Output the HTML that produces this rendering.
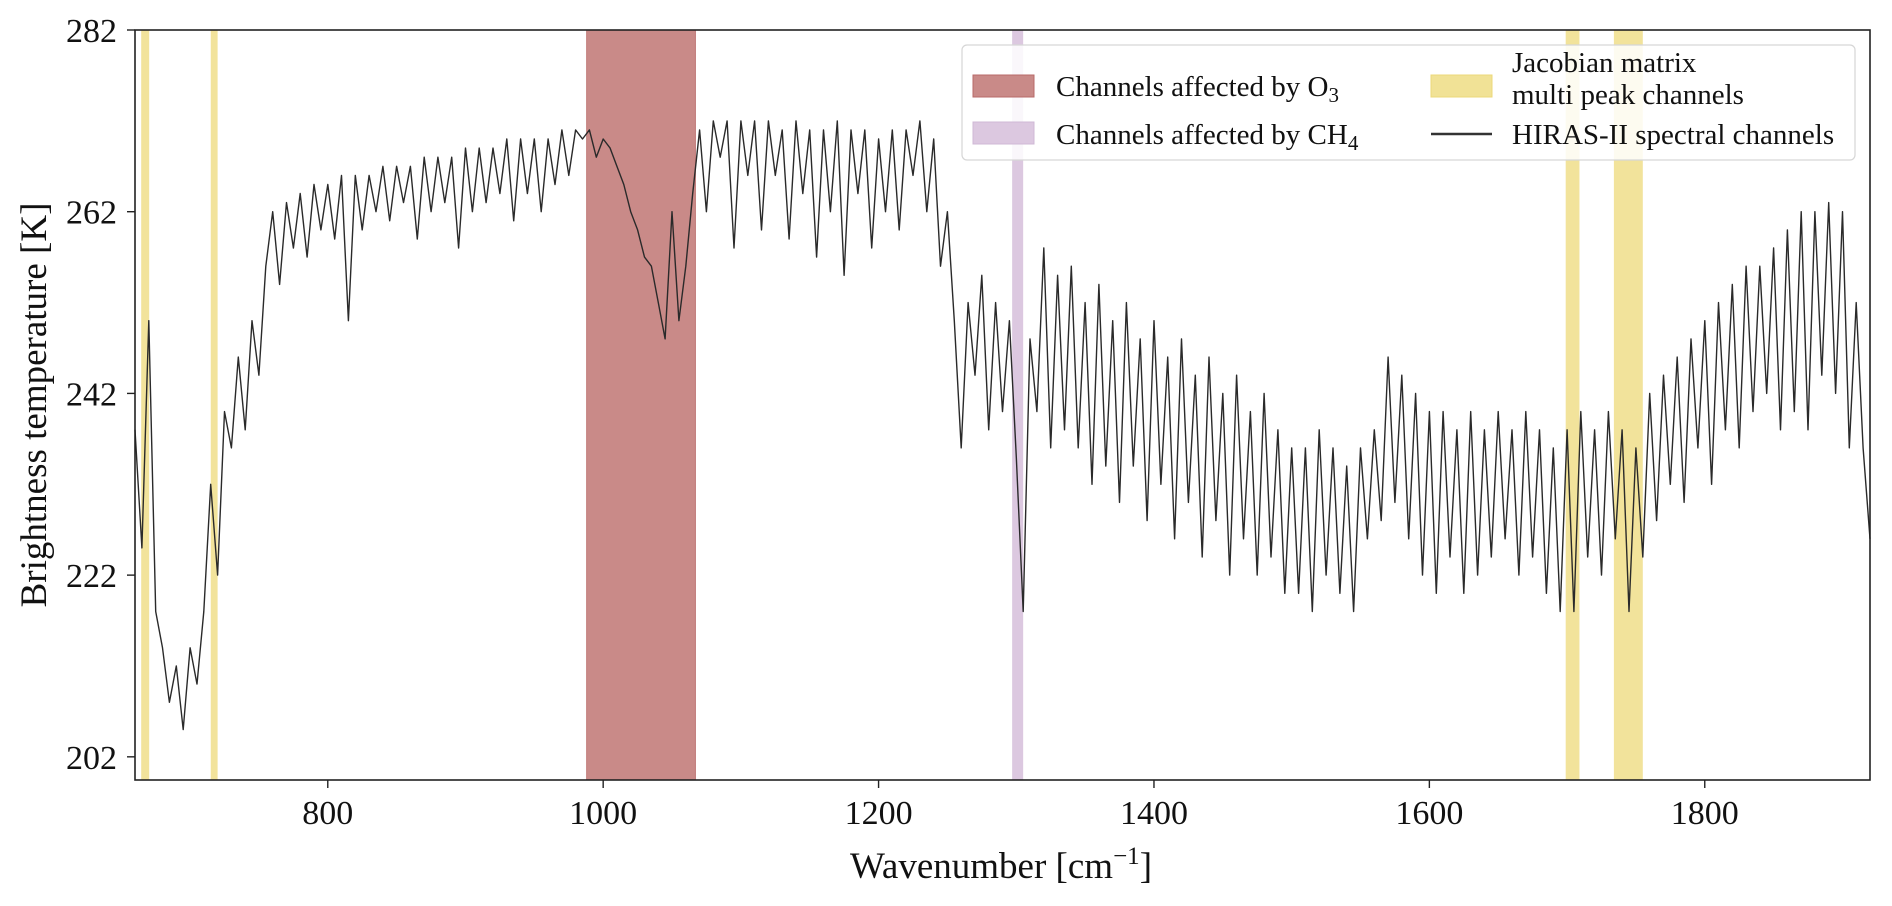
<!DOCTYPE html>
<html><head><meta charset="utf-8"><style>
html,body{margin:0;padding:0;background:#fff;}
svg text{font-family:"Liberation Serif","DejaVu Serif",serif;fill:#111;}
</style></head><body>
<svg id="chart" width="1892" height="901" viewBox="0 0 1892 901" xmlns="http://www.w3.org/2000/svg">
<g id="bands"></g>
<g id="series"></g>
<g id="axes"></g>
<text x="1001" y="878" font-size="37" text-anchor="middle">Wavenumber [cm<tspan dy="-14" font-size="25">−1</tspan><tspan dy="14">]</tspan></text>
<text transform="translate(46,405) rotate(-90)" font-size="37" text-anchor="middle">Brightness temperature [K]</text>
<g>
<rect x="962" y="45" width="893" height="115" rx="5" fill="#fff" fill-opacity="0.85" stroke="#d6d6d6" stroke-width="1.2"/>
<rect x="973" y="75" width="61" height="22" fill="#c98a88" stroke="#b86a68"/>
<text x="1056" y="96" font-size="29">Channels affected by O<tspan dy="6" font-size="21">3</tspan></text>
<rect x="973" y="122" width="61" height="22" fill="#dcc8e0" stroke="#cfb8d6"/>
<text x="1056" y="144" font-size="29">Channels affected by CH<tspan dy="6" font-size="21">4</tspan></text>
<rect x="1431" y="75" width="61" height="22" fill="#f1e296" stroke="#ecd87a"/>
<text x="1512" y="72" font-size="29">Jacobian matrix</text>
<text x="1512" y="104" font-size="29">multi peak channels</text>
<line x1="1431" y1="134" x2="1492" y2="134" stroke="#333" stroke-width="2.5"/>
<text x="1512" y="144" font-size="29">HIRAS-II spectral channels</text>
</g>
</svg>
<script>
const xTicks=[800,1000,1200,1400,1600,1800];
const yTicks=[202,222,242,262,282];
const o3Band=[988,1067];
const ch4Band=[1297,1305];
const jacobianBands=[[664.5,670.3],[715,720],[1699,1709],[1734,1755]];
const wnStart=660, wnStep=5;
const bt=[
238,225,250,218,214,208,212,205,214,210,
218,232,222,240,236,246,238,250,244,256,
262,254,263,258,264,257,265,260,265,259,
266,250,266,260,266,262,267,261,267,263,
267,259,268,262,268,263,268,258,269,262,
269,263,269,264,270,261,270,264,270,262,
270,265,271,266,271,270,271,268,270,269,
267,265,262,260,257,256,252,248,262,250,
256,264,271,262,272,268,272,258,272,266,
272,260,272,266,271,259,272,264,271,257,
271,262,272,255,271,264,271,258,270,262,
271,260,271,266,272,262,270,256,262,250,
236,252,244,255,238,252,240,250,235,218,
248,240,258,236,255,238,256,236,252,232,
254,234,250,230,252,234,248,228,250,232,
246,226,248,230,244,224,246,228,242,222,
244,226,240,222,242,224,238,220,236,220,
236,218,238,222,236,220,234,218,236,226,
238,228,246,230,244,226,242,222,240,220,
240,224,238,220,240,222,238,224,240,226,
238,222,240,224,238,220,236,218,238,218,
240,224,238,222,240,226,238,218,236,224,
242,228,244,232,246,230,248,236,250,232,
252,238,254,236,256,240,256,242,258,238,
260,240,262,238,262,244,263,242,262,236,
252,236,226];
const X0=135,X1=1870,Y0=30,Y1=780,XMIN=660,XMAX=1920,YMIN=199.45,YMAX=282;
const NS='http://www.w3.org/2000/svg';
function sx(v){return X0+(v-XMIN)/(XMAX-XMIN)*(X1-X0);}
function sy(v){return Y1-(v-YMIN)/(YMAX-YMIN)*(Y1-Y0);}
function mk(t,a,p){const e=document.createElementNS(NS,t);for(const k in a)e.setAttribute(k,a[k]);p.appendChild(e);return e;}
const bands=document.getElementById('bands');
let r=mk('rect',{x:sx(o3Band[0]),y:Y0,width:sx(o3Band[1])-sx(o3Band[0]),height:Y1-Y0,fill:'#c98a88',stroke:'#c07a78'},bands);


r=mk('rect',{x:sx(ch4Band[0]),y:Y0,width:sx(ch4Band[1])-sx(ch4Band[0]),height:Y1-Y0,fill:'#dcc8e0'},bands);


jacobianBands.forEach(b=>{
  const e=mk('rect',{x:sx(b[0]),y:Y0,width:sx(b[1])-sx(b[0]),height:Y1-Y0,fill:'#f1e296',opacity:0.95},bands);
  
  
});
const series=document.getElementById('series');
const pts=bt.map((v,i)=>sx(wnStart+i*wnStep).toFixed(1)+','+sy(v).toFixed(1)).join(' ');
const pl=mk('polyline',{points:pts,fill:'none',stroke:'#2a2a2a','stroke-width':1.4,'stroke-linejoin':'round'},series);


const axes=document.getElementById('axes');
const fr=mk('rect',{x:X0,y:Y0,width:X1-X0,height:Y1-Y0,fill:'none',stroke:'#222','stroke-width':1.6},axes);


xTicks.forEach(v=>{
  const x=sx(v);
  const t=mk('line',{x1:x,y1:Y1,x2:x,y2:Y1+8,stroke:'#222','stroke-width':1.4},axes);
  
  
  const l=mk('text',{x:x,y:Y1+44,'font-size':34,'text-anchor':'middle'},axes);
  l.textContent=v;
  
  
});
yTicks.forEach(v=>{
  const y=sy(v);
  const t=mk('line',{x1:X0-8,y1:y,x2:X0,y2:y,stroke:'#222','stroke-width':1.4},axes);
  
  
  const l=mk('text',{x:X0-18,y:y+12,'font-size':34,'text-anchor':'end'},axes);
  l.textContent=v;
  
  
});
</script>
</body></html>
